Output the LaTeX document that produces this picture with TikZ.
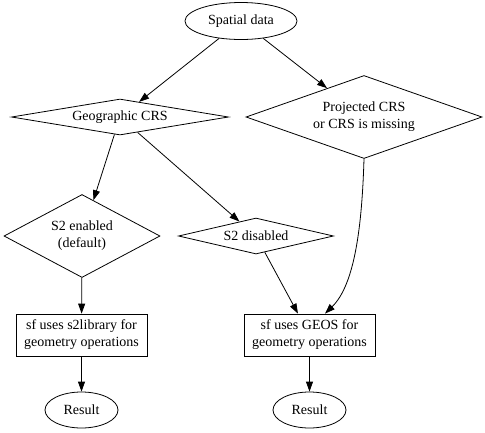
\documentclass[tikz,border=0pt]{standalone}
\usepackage{fontspec}
\setmainfont{Liberation Serif}
\usetikzlibrary{shapes.geometric,arrows.meta}
\begin{document}
\begin{tikzpicture}[x=1pt,y=-1pt,
  every node/.style={font=\fontsize{14}{17}\selectfont, inner sep=0pt, align=center, draw, line width=0.8pt},
  ell/.style={ellipse},
  dia/.style={diamond},
  box/.style={rectangle, minimum width=131pt, minimum height=42pt},
  arr/.style={line width=0.8pt, -{Triangle[length=10pt,width=7pt]}}
]
\useasboundingbox (0,0) rectangle (485,432);
\node[ell, minimum width=112pt, minimum height=37pt] (sd) at (241,21) {Spatial data};
\node[dia, aspect=6, minimum width=217pt, minimum height=36pt] (geo) at (120,117) {Geographic CRS};
\node[dia, aspect=2.84, minimum width=236pt, minimum height=83pt] (proj) at (364,117) {Projected CRS\\or CRS is missing};
\node[dia, aspect=1.9, minimum width=156pt, minimum height=83pt] (s2e) at (82,236) {S2 enabled\\(default)};
\node[dia, aspect=4.3, minimum width=155pt, minimum height=36pt] (s2d) at (256,236) {S2 disabled};
\node[box] (s2lib) at (81.5,335) {sf uses s2library for\\geometry operations};
\node[box] (geos) at (309.5,335) {sf uses GEOS for\\geometry operations};
\node[ell, minimum width=73pt, minimum height=36pt] (r1) at (81.5,410) {Result};
\node[ell, minimum width=73pt, minimum height=36pt] (r2) at (309.5,410) {Result};
\coordinate (geosin) at ([xshift=15.5pt]geos.north);
\draw[arr] (sd) -- (geo);
\draw[arr] (sd) -- (proj);
\draw[arr] (geo) -- (s2e);
\draw[arr] (geo) -- (s2d);
\draw[arr] (s2d) -- (geos);
\draw[arr] (proj.south) .. controls +(-2,66) and +(30,-29) .. (geosin);
\draw[arr] (s2e) -- (s2lib);
\draw[arr] (s2lib) -- (r1);
\draw[arr] (geos) -- (r2);
\end{tikzpicture}
\end{document}
